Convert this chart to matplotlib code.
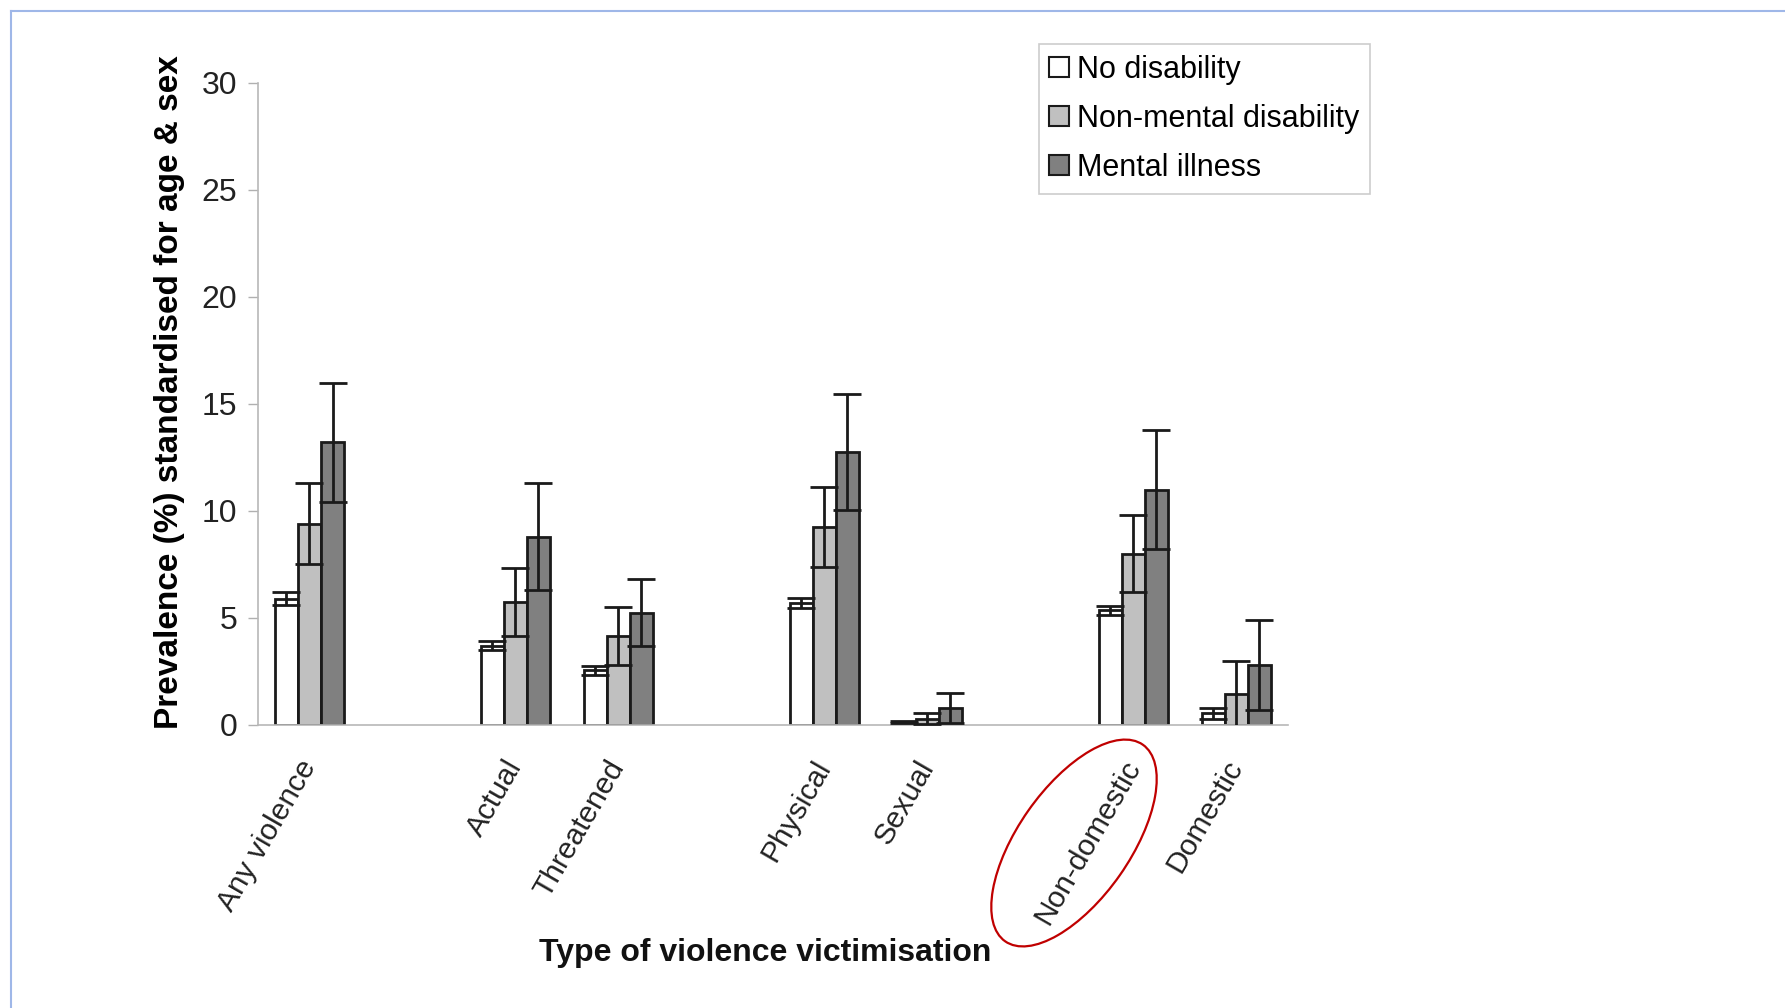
import numpy as np
import matplotlib
matplotlib.use("Agg")
import matplotlib.pyplot as plt
from matplotlib.patches import Ellipse
from matplotlib.lines import Line2D
from matplotlib.transforms import IdentityTransform

plt.rcParams['font.family'] = ['Liberation Sans', 'DejaVu Sans']

# categories ("" = empty gap category, as in the original spreadsheet chart)
categories = ["Any violence", "", "Actual", "Threatened", "", "Physical",
              "Sexual", "", "Non-domestic", "Domestic"]
series_names = ["No disability", "Non-mental disability", "Mental illness"]

# prevalence values (%), nan for the gap categories
no_disability = [5.9, np.nan, 3.7, 2.55, np.nan, 5.7, 0.15, np.nan, 5.35, 0.55]
non_mental = [9.4, np.nan, 5.75, 4.15, np.nan, 9.25, 0.3, np.nan, 8.0, 1.45]
mental_illness = [13.2, np.nan, 8.8, 5.25, np.nan, 12.75, 0.8, np.nan, 11.0, 2.8]

# symmetric error (half width of the CI)
no_disability_err = [0.3, np.nan, 0.2, 0.2, np.nan, 0.25, 0.05, np.nan, 0.2, 0.25]
non_mental_err = [1.9, np.nan, 1.6, 1.35, np.nan, 1.85, 0.25, np.nan, 1.8, 1.55]
mental_illness_err = [2.8, np.nan, 2.5, 1.55, np.nan, 2.7, 0.7, np.nan, 2.8, 2.1]

yticks = [0, 5, 10, 15, 20, 25, 30]

fig = plt.figure(figsize=(17.85, 10.08), dpi=100)
ax = fig.add_axes([0.1445, 0.2808, 0.577, 0.637])

x = np.arange(len(categories))
width = 0.224
fills = ["#ffffff", "#c0c0c0", "#808080"]
values = [no_disability, non_mental, mental_illness]
errors = [no_disability_err, non_mental_err, mental_illness_err]

for i in range(3):
    xi = x + (i - 1) * width
    ax.bar(xi, values[i], width, color=fills[i], edgecolor="#1a1a1a",
           linewidth=2, label=series_names[i], zorder=2)
    ax.errorbar(xi, values[i], yerr=errors[i], fmt="none", ecolor="#1a1a1a",
                elinewidth=2, capsize=10, capthick=2, zorder=3)

ax.set_xlim(-0.5, len(categories) - 0.5)
ax.set_ylim(0, 30)
ax.set_yticks(yticks)
ax.set_xticks(x)
ax.set_xticklabels(categories, rotation=60, ha="right", va="center",
                   rotation_mode="anchor", fontsize=21.5, color="#222222")
ax.tick_params(axis="x", length=0, pad=27)
ax.tick_params(axis="y", length=7, width=1, color="#b0b0b0", pad=8,
               labelsize=23, labelcolor="#222222")

for s in ["top", "right"]:
    ax.spines[s].set_visible(False)
for s in ["left", "bottom"]:
    ax.spines[s].set_color("#b8b8b8")
    ax.spines[s].set_linewidth(1.2)

ax.set_ylabel("Prevalence (%) standardised for age & sex", fontsize=24,
              fontweight="bold")
ax.yaxis.set_label_coords(-0.071, 0.518)
fig.text(0.4285, 0.055, "Type of violence victimisation", fontsize=23,
         fontweight="bold", ha="center", va="center", color="#111111")

leg = ax.legend(loc="upper left", bbox_to_anchor=(0.758, 1.06), fontsize=22,
                frameon=True, fancybox=False, handlelength=0.65, handleheight=0.65,
                handletextpad=0.25, borderpad=0.35, labelspacing=0.62,
                borderaxespad=0)
leg.get_frame().set_edgecolor("#c0c0c0")
leg.get_frame().set_linewidth(1.2)
for h in leg.legend_handles:
    h.set_linewidth(1.5)

# red ellipse highlighting the Non-domestic label (pixel coords)
ell = Ellipse((1074, 1008 - 843), 240, 112, angle=55, fill=False,
              edgecolor="#c00000", linewidth=1.6, transform=IdentityTransform())
fig.patches.append(ell)

# thin blue page border (top and left)
fig.lines.append(Line2D([11 / 1785, 1], [1 - 11 / 1008, 1 - 11 / 1008],
                        transform=fig.transFigure, color="#9fb7e8", linewidth=1.5))
fig.lines.append(Line2D([11 / 1785, 11 / 1785], [0, 1 - 11 / 1008],
                        transform=fig.transFigure, color="#9fb7e8", linewidth=1.5))

fig.savefig("out.png", dpi=100)
